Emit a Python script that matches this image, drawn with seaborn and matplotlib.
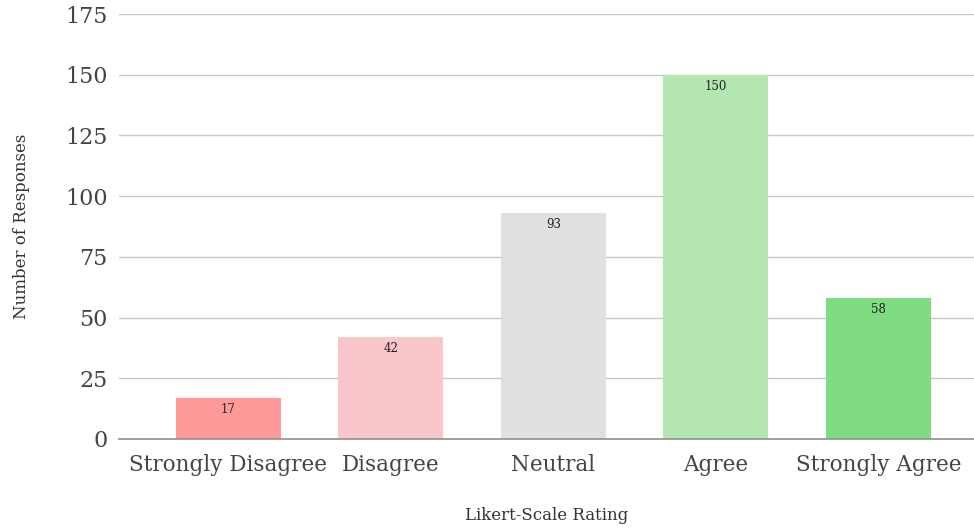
import matplotlib
matplotlib.use("Agg")
import matplotlib.pyplot as plt
import seaborn as sns
import pandas as pd

categories = ["Strongly Disagree", "Disagree", "Neutral", "Agree", "Strongly Agree"]
responses = [17, 42, 93, 150, 58]
bar_colors = ["#FF9A9A", "#F9C6CC", "#E0E0E0", "#B3E6B0", "#80DC80"]
y_ticks = [0, 25, 50, 75, 100, 125, 150, 175]

sns.set_theme(style="white")
plt.rcParams["font.family"] = ["DejaVu Serif"]

df = pd.DataFrame({"rating": categories, "count": responses})

fig = plt.figure(figsize=(9.74, 5.31), dpi=100)
ax = fig.add_axes([0.122, 0.1733, 0.878, 0.8003])

sns.barplot(data=df, x="rating", y="count", hue="rating", palette=bar_colors,
            order=categories, hue_order=categories, legend=False,
            width=0.646, saturation=1, linewidth=0, ax=ax)

for patch, val in zip(ax.patches, responses):
    cx = patch.get_x() + patch.get_width() / 2
    ax.annotate(str(val), (cx, val), xytext=(0, -8.5), textcoords="offset points",
                ha="center", va="center", fontsize=8.5, color="#222222")

ax.set_ylim(0, 175)
ax.set_xlim(-0.674, 4.588)
ax.set_yticks(y_ticks)
ax.set_yticklabels([str(t) for t in y_ticks])
ax.yaxis.grid(True, color="#C8C8C8", linewidth=1)
ax.set_axisbelow(True)

for side in ["left", "right", "top"]:
    ax.spines[side].set_visible(False)
ax.spines["bottom"].set_color("#909090")
ax.spines["bottom"].set_linewidth(1.2)
ax.spines["bottom"].set_zorder(5)

ax.tick_params(axis="both", length=0, labelsize=15.5, colors="#444444")
ax.tick_params(axis="y", pad=8, labelsize=16)
ax.tick_params(axis="x", pad=11)

ax.set_xlabel("Likert-Scale Rating", fontsize=12, color="#333333", labelpad=22)
ax.set_ylabel("Number of Responses", fontsize=12, color="#333333", labelpad=25)

fig.savefig("out.png", dpi=100)
